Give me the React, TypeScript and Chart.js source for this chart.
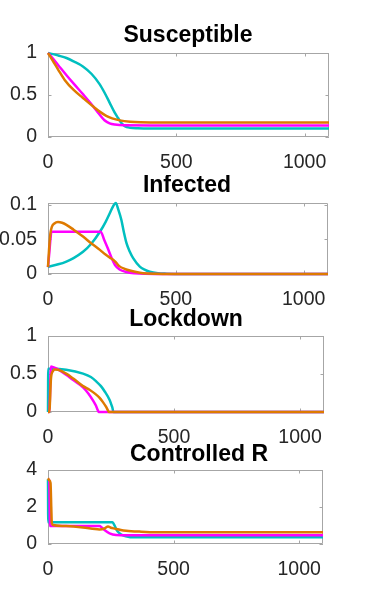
import React, { useEffect, useRef } from "react";
import { Chart, registerables } from "chart.js";

Chart.register(...registerables);

type Pt = [number, number];

// ---------- data ----------
const xTicks = [0, 500, 1000];
const xMax = 1095;

const titles = ["Susceptible", "Infected", "Lockdown", "Controlled R"];

const yTicksSusceptible = [0, 0.5, 1];
const yTicksInfected = [0, 0.05, 0.1];
const yTicksLockdown = [0, 0.5, 1];
const yTicksR = [0, 2, 4];

const yMaxSusceptible = 1;
const yMaxInfected = 0.1025;
const yMaxLockdown = 1;
const yMaxR = 4;

// Susceptible
const susCyan: Pt[] = [[0, 1], [20, 0.987], [40, 0.97], [72, 0.94], [100, 0.9], [136, 0.84], [170, 0.75], [201, 0.63], [220, 0.53], [240, 0.41], [260, 0.29], [273, 0.226], [285, 0.17], [299, 0.13], [320, 0.11], [350, 0.103], [400, 0.1], [1095, 0.1]];
const susMagenta: Pt[] = [[0, 1], [20, 0.93], [40, 0.855], [72, 0.735], [100, 0.635], [136, 0.51], [175, 0.37], [200, 0.27], [220, 0.2], [240, 0.163], [260, 0.148], [300, 0.139], [400, 0.138], [1095, 0.138]];
const susOrange: Pt[] = [[0, 1], [10, 0.95], [20, 0.9], [40, 0.8], [65, 0.68], [100, 0.56], [136, 0.465], [175, 0.365], [200, 0.305], [227, 0.252], [250, 0.222], [280, 0.198], [320, 0.182], [360, 0.176], [450, 0.174], [1095, 0.174]];

// Infected
const infCyan: Pt[] = [[0, 0.0106], [40, 0.014], [72, 0.018], [100, 0.023], [137, 0.032], [170, 0.044], [203, 0.061], [225, 0.075], [242, 0.088], [255, 0.098], [265, 0.1025], [275, 0.093], [287, 0.078], [297, 0.06], [307, 0.0445], [320, 0.032], [333, 0.0228], [359, 0.0106], [380, 0.006], [398, 0.0033], [430, 0.0012], [464, 0.0005], [520, 0], [1095, 0]];
const infMagenta: Pt[] = [[0, 0.01], [5, 0.03], [10, 0.052], [13, 0.061], [206, 0.061], [220, 0.049], [235, 0.036], [250, 0.022], [262, 0.013], [280, 0.0065], [307, 0.0028], [340, 0.001], [380, 0.0002], [420, 0], [1095, 0]];
const infOrange: Pt[] = [[0, 0.01], [5, 0.04], [10, 0.06], [15, 0.068], [25, 0.073], [39, 0.075], [55, 0.074], [72, 0.071], [100, 0.064], [137, 0.054], [170, 0.044], [203, 0.0348], [225, 0.028], [242, 0.0235], [255, 0.0205], [265, 0.017], [280, 0.011], [300, 0.0075], [320, 0.005], [345, 0.0028], [372, 0.0012], [420, 0.0003], [480, 0], [1095, 0]];

// Lockdown
const lockCyan: Pt[] = [[0, 0], [1, 0.57], [20, 0.57], [72, 0.556], [139, 0.505], [170, 0.46], [192, 0.4], [210, 0.34], [225, 0.27], [245, 0.155], [252, 0.09], [256, 0.05], [259, 0], [1095, 0]];
const lockMagenta: Pt[] = [[0, 0], [5, 0], [12, 0.6], [20, 0.59], [40, 0.56], [72, 0.49], [100, 0.42], [139, 0.325], [160, 0.245], [179, 0.15], [190, 0.085], [198, 0.02], [202, 0], [1095, 0]];
const lockOrange: Pt[] = [[0, 0], [5, 0], [12, 0.45], [20, 0.54], [27, 0.56], [40, 0.555], [72, 0.505], [100, 0.44], [139, 0.34], [166, 0.29], [185, 0.245], [204, 0.19], [218, 0.13], [230, 0.07], [238, 0.02], [241, 0], [1095, 0]];

// Controlled R
const rCyan: Pt[] = [[0, 3.5], [1, 1.17], [257, 1.17], [265, 1.0], [273, 0.76], [283, 0.6], [294, 0.49], [310, 0.41], [327, 0.37], [380, 0.36], [1095, 0.36]];
const rMagenta: Pt[] = [[0, 3.5], [5, 3.45], [8, 0.97], [205, 0.97], [215, 0.88], [225, 0.76], [245, 0.58], [271, 0.49], [320, 0.475], [1095, 0.47]];
const rOrange: Pt[] = [[0, 3.55], [5, 3.45], [10, 3.3], [13, 2], [15, 1.15], [20, 1.03], [72, 0.97], [139, 0.89], [205, 0.79], [225, 0.84], [239, 0.94], [250, 0.88], [266, 0.83], [290, 0.76], [311, 0.72], [364, 0.67], [430, 0.635], [1095, 0.63]];

// ---------- styles / layout ----------
const ORANGE = "#DE7A00";
const MAGENTA = "#FF00FF";
const CYAN = "#00BFBF";
const AXIS = "#A6A6A6";
const TEXT = "#262626";
const FONT = '"Liberation Sans", Arial, Helvetica, sans-serif';

type PanelCfg = {
  title: string;
  series: Pt[][];
  yTicks: number[];
  yMax: number;
  top: number;
  height: number;
  plotLeft: number;
  plotRight: number;
  plotTop: number;
  plotBottom: number;
  titleBase: number;
  titleX: number;
};

const panels: PanelCfg[] = [
  { title: titles[0], series: [susOrange, susMagenta, susCyan], yTicks: yTicksSusceptible, yMax: yMaxSusceptible, top: 0, height: 175, plotLeft: 48, plotRight: 329, plotTop: 53, plotBottom: 137, titleBase: 42, titleX: 188 },
  { title: titles[1], series: [infOrange, infMagenta, infCyan], yTicks: yTicksInfected, yMax: yMaxInfected, top: 175, height: 130, plotLeft: 48, plotRight: 328, plotTop: 203, plotBottom: 274, titleBase: 192, titleX: 187 },
  { title: titles[2], series: [lockOrange, lockMagenta, lockCyan], yTicks: yTicksLockdown, yMax: yMaxLockdown, top: 305, height: 139, plotLeft: 48, plotRight: 324, plotTop: 336, plotBottom: 412, titleBase: 326, titleX: 186 },
  { title: titles[3], series: [rOrange, rMagenta, rCyan], yTicks: yTicksR, yMax: yMaxR, top: 444, height: 164, plotLeft: 48, plotRight: 323, plotTop: 470, plotBottom: 544, titleBase: 461, titleX: 199 },
];

const colors = [ORANGE, MAGENTA, CYAN];

function Panel({ cfg }: { cfg: PanelCfg }) {
  const ref = useRef<HTMLCanvasElement | null>(null);
  useEffect(() => {
    const canvas = ref.current;
    if (!canvas) return;
    const boxPlugin = {
      id: "matlabBox",
      beforeDatasetsDraw(chart: any) {
        const { ctx, chartArea } = chart;
        const { left, right, top, bottom } = chartArea;
        ctx.save();
        ctx.strokeStyle = AXIS;
        ctx.lineWidth = 1;
        ctx.beginPath();
        ctx.rect(left + 0.5, top + 0.5, right - left - 1, bottom - top - 1);
        ctx.stroke();
        const xs = chart.scales.x;
        const ys = chart.scales.y;
        const tl = 3.5;
        ctx.beginPath();
        for (const v of xTicks) {
          const px = Math.round(xs.getPixelForValue(v)) + 0.5;
          ctx.moveTo(px, bottom);
          ctx.lineTo(px, bottom - tl);
          ctx.moveTo(px, top);
          ctx.lineTo(px, top + tl);
        }
        for (const v of cfg.yTicks) {
          const py = Math.round(ys.getPixelForValue(v)) + 0.5;
          ctx.moveTo(left, py);
          ctx.lineTo(left + tl, py);
          ctx.moveTo(right, py);
          ctx.lineTo(right - tl, py);
        }
        ctx.stroke();
        ctx.restore();
      },
      afterDraw(chart: any) {
        const { ctx } = chart;
        ctx.save();
        ctx.font = `bold 23px ${FONT}`;
        ctx.fillStyle = "#000000";
        ctx.textAlign = "center";
        ctx.textBaseline = "alphabetic";
        ctx.fillText(cfg.title, cfg.titleX, cfg.titleBase - cfg.top);
        ctx.restore();
      },
    };

    const chart = new Chart(canvas, {
      type: "line",
      data: {
        datasets: cfg.series.map((s, i) => ({
          data: s.map(([x, y]) => ({ x, y })),
          borderColor: colors[i],
          backgroundColor: colors[i],
          borderWidth: 2.5,
          pointRadius: 0,
          fill: false,
          cubicInterpolationMode: "monotone" as const,
          clip: false as any,
        })),
      },
      options: {
        animation: false,
        responsive: false,
        devicePixelRatio: 1,
        events: [],
        layout: {
          padding: {
            top: cfg.plotTop - cfg.top,
            right: 371 - cfg.plotRight,
            left: 0,
            bottom: 0,
          },
        },
        plugins: {
          legend: { display: false },
          title: { display: false },
          tooltip: { enabled: false },
        },
        scales: {
          x: {
            type: "linear",
            min: 0,
            max: xMax,
            grid: { display: false, drawTicks: false },
            border: { display: false },
            ticks: {
              padding: 14,
              color: TEXT,
              font: { size: 19.5, family: FONT },
              maxRotation: 0,
              autoSkip: false,
              callback: (v: any) => String(v),
            },
            afterBuildTicks: (s: any) => {
              s.ticks = xTicks.map((v) => ({ value: v }));
            },
            afterFit: (s: any) => {
              s.height = cfg.top + cfg.height - cfg.plotBottom;
            },
          },
          y: {
            type: "linear",
            min: 0,
            max: cfg.yMax,
            grid: { display: false, drawTicks: false },
            border: { display: false },
            ticks: {
              padding: 11,
              color: TEXT,
              font: { size: 19.5, family: FONT },
              autoSkip: false,
              callback: (v: any) => String(v),
            },
            afterBuildTicks: (s: any) => {
              s.ticks = cfg.yTicks.map((v) => ({ value: v }));
            },
            afterFit: (s: any) => {
              s.width = cfg.plotLeft;
            },
          },
        },
      },
      plugins: [boxPlugin],
    } as any);
    return () => chart.destroy();
  }, [cfg]);

  return (
    <canvas
      ref={ref}
      width={371}
      height={cfg.height}
      style={{ position: "absolute", left: 0, top: cfg.top, width: 371, height: cfg.height }}
    />
  );
}

export default function App() {
  return (
    <div style={{ position: "absolute", left: 0, top: 0, width: 371, height: 608, background: "#ffffff" }}>
      {panels.map((p, i) => (
        <Panel key={i} cfg={p} />
      ))}
    </div>
  );
}
